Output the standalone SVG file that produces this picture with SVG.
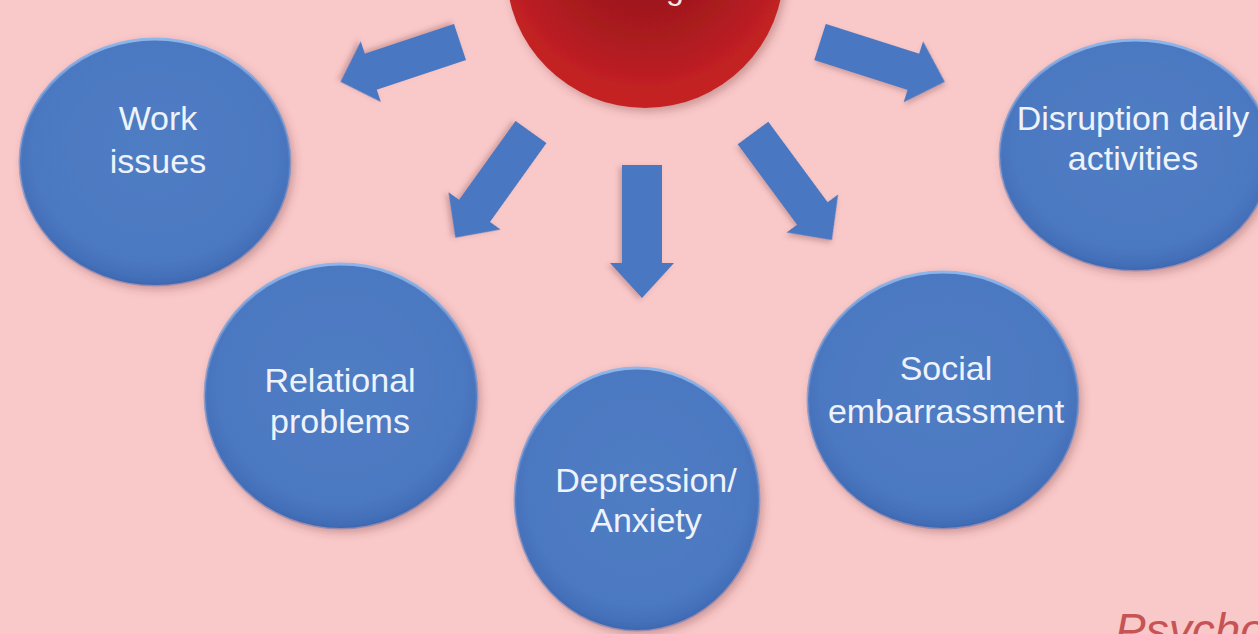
<svg xmlns="http://www.w3.org/2000/svg" width="1258" height="634" viewBox="0 0 1258 634">
  <defs>
    <radialGradient id="blueFill" cx="50%" cy="45%" r="55%">
      <stop offset="0" stop-color="#4f7cc3"/>
      <stop offset="0.82" stop-color="#4c79c1"/>
      <stop offset="0.94" stop-color="#4470ba"/>
      <stop offset="1" stop-color="#3f6ab3"/>
    </radialGradient>
    <linearGradient id="rimLight" x1="0" y1="0" x2="0" y2="1">
      <stop offset="0" stop-color="#8fb6ea"/>
      <stop offset="0.35" stop-color="#5f8fd2" stop-opacity="0.6"/>
      <stop offset="1" stop-color="#3a64ad" stop-opacity="0.4"/>
    </linearGradient>
    <radialGradient id="redFill" cx="50%" cy="40%" r="55%">
      <stop offset="0" stop-color="#8e151a"/>
      <stop offset="0.6" stop-color="#a81a1f"/>
      <stop offset="1" stop-color="#c42124"/>
    </radialGradient>
    <filter id="shadow" x="-20%" y="-20%" width="140%" height="140%">
      <feDropShadow dx="3" dy="4" stdDeviation="4" flood-color="#7a3c3c" flood-opacity="0.35"/>
    </filter>
    <filter id="arrowShadow" x="-20%" y="-40%" width="140%" height="180%">
      <feDropShadow dx="2" dy="3" stdDeviation="2.5" flood-color="#7a3c3c" flood-opacity="0.3"/>
    </filter>
  </defs>
  <style>
    .bubble { fill: url(#blueFill); stroke: url(#rimLight); stroke-width: 3; filter: url(#shadow); }
    .label { font-family: "Liberation Sans", Arial, sans-serif; font-size: 34px; fill: #eef3fb; text-anchor: middle; }
    .arrow { fill: #4a77c1; filter: url(#arrowShadow); }
    .credit { font-family: "Liberation Sans", Arial, sans-serif; font-style: italic; font-size: 46px; fill: #c65454; }
  </style>

  <!-- page background -->
  <rect x="0" y="0" width="1258" height="634" fill="#f9c8c8"/>

  <!-- central cause, mostly above the top edge -->
  <g id="centre">
    <circle cx="645" cy="-31" r="139" fill="url(#redFill)" filter="url(#shadow)"/>
    <text x="675" y="-1" font-family="Liberation Sans, Arial, sans-serif" font-size="32" fill="#f3e6e6" text-anchor="middle">g</text>
  </g>

  <!-- block arrows from the centre out to each consequence -->
  <g id="connectors">
    <path class="arrow" transform="translate(460,42) rotate(161.6)" d="M0,-19 L94,-19 L94,-32 L126,0 L94,32 L94,19 L0,19 Z"/>
    <path class="arrow" transform="translate(531,132) rotate(125.6)" d="M0,-19 L97,-19 L97,-32 L130,0 L97,32 L97,19 L0,19 Z"/>
    <path class="arrow" transform="translate(642,165) rotate(90)" d="M0,-20 L98,-20 L98,-32 L133,0 L98,32 L98,20 L0,20 Z"/>
    <path class="arrow" transform="translate(753,133) rotate(53.6)" d="M0,-19 L100,-19 L100,-32 L133,0 L100,32 L100,19 L0,19 Z"/>
    <path class="arrow" transform="translate(820,42) rotate(17.7)" d="M0,-19 L98,-19 L98,-32 L131,0 L98,32 L98,19 L0,19 Z"/>
  </g>

  <g id="work-issues">
    <ellipse class="bubble" cx="155" cy="162" rx="135" ry="123"/>
    <text class="label" x="158" y="130">Work</text>
    <text class="label" x="158" y="173">issues</text>
  </g>

  <g id="relational-problems">
    <ellipse class="bubble" cx="341" cy="396" rx="136" ry="132"/>
    <text class="label" x="340" y="392">Relational</text>
    <text class="label" x="340" y="433">problems</text>
  </g>

  <g id="depression-anxiety">
    <ellipse class="bubble" cx="637" cy="499" rx="122" ry="131"/>
    <text class="label" x="646" y="492">Depression/</text>
    <text class="label" x="646" y="532">Anxiety</text>
  </g>

  <g id="social-embarrassment">
    <ellipse class="bubble" cx="943" cy="400" rx="135" ry="128"/>
    <text class="label" x="946" y="380">Social</text>
    <text class="label" x="946" y="423">embarrassment</text>
  </g>

  <g id="disruption-daily-activities">
    <ellipse class="bubble" cx="1135" cy="155" rx="135" ry="115"/>
    <text class="label" x="1133" y="130">Disruption daily</text>
    <text class="label" x="1133" y="170">activities</text>
  </g>

  <!-- source line, cut by the bottom edge -->
  <text class="credit" x="1115" y="646">Psycho</text>
</svg>
